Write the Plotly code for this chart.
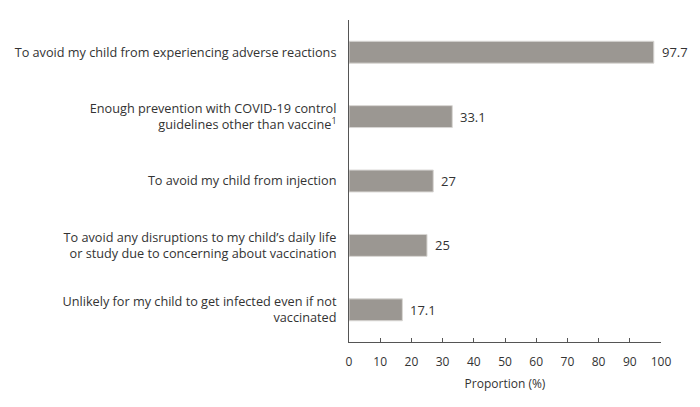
import plotly.graph_objects as go

# reasons for not vaccinating (bottom to top)
reasons = [
    "Unlikely for my child to get infected even if not<br>vaccinated",
    "To avoid any disruptions to my child’s daily life<br>or study due to concerning about vaccination",
    "To avoid my child from injection",
    "Enough prevention with COVID-19 control<br>guidelines other than vaccine<sup>1</sup>",
    "To avoid my child from experiencing adverse reactions",
]
proportion = [17.1, 25, 27, 33.1, 97.7]
labels = ["17.1", "25", "27", "33.1", "97.7"]

fig = go.Figure(go.Bar(
    x=proportion, y=reasons, orientation="h",
    marker=dict(color="#9b9792", line=dict(color="#d8d6d3", width=1)),
    width=0.34,
))

# value labels just past the bar ends
for r, v, t in zip(reasons, proportion, labels):
    fig.add_annotation(x=v, y=r, text=t, showarrow=False, xanchor="left",
                       xshift=6, font=dict(size=13, color="#333333"))

# page body has an 8px default margin, so keep the figure small enough
# that no scrollbars show up
fig.update_layout(
    width=684, height=391,
    margin=dict(l=341, r=31, t=12, b=57),
    plot_bgcolor="white", paper_bgcolor="white",
    font=dict(family="Open Sans", size=12, color="#333333"),
    showlegend=False,
)
fig.update_xaxes(
    range=[0, 100], dtick=10, showgrid=False, zeroline=False,
    showline=True, linecolor="#555555", linewidth=1,
    ticks="inside", ticklen=4, tickcolor="#555555",
    tickfont=dict(size=12), ticklabelstandoff=9, automargin=False,
    title=dict(text="Proportion (%)", font=dict(size=12), standoff=10),
)
fig.update_yaxes(
    range=[-0.5, 4.5], showgrid=False, zeroline=False,
    showline=True, linecolor="#555555", linewidth=1,
    ticks="", ticklabelstandoff=9, tickfont=dict(size=12.7), automargin=False,
)

fig.write_html("out.html")
